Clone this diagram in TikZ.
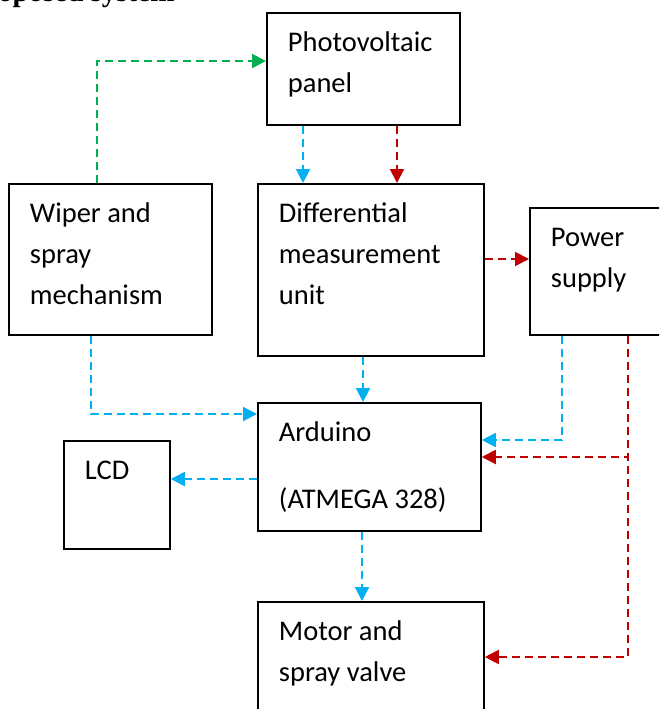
\documentclass[tikz,border=0pt]{standalone}
\usepackage{fontspec}
\setmainfont{Carlito}
\newfontfamily\headfont{Liberation Serif}
\usepackage{xcolor}
\usepackage{tikz}
\usetikzlibrary{arrows.meta,positioning,calc}
\definecolor{skyblue}{HTML}{00B0F0}
\definecolor{darkred}{HTML}{C00000}
\definecolor{leafgreen}{HTML}{00B050}

\begin{document}
\begin{tikzpicture}[
  x=1pt, y=-1pt,
  block/.style={draw, line width=1.8pt, anchor=north west, align=flush left, inner xsep=21pt, inner ysep=0pt, text height=39pt, font=\fontsize{28.5pt}{41pt}\selectfont},
  link/.style={-{Triangle[length=14pt,width=14pt]}, line width=2pt, dash pattern=on 8pt off 5pt},
  bluelink/.style={link, draw=skyblue, skyblue},
  redlink/.style={link, draw=darkred, darkred},
  greenlink/.style={link, draw=leafgreen, leafgreen}
]
\useasboundingbox (0,0) rectangle (659,709);
\clip (0,0) rectangle (659,709);
\node[anchor=base east, font=\headfont\bfseries\fontsize{29pt}{34pt}\selectfont] (title) at (178,2) {Proposed system};
\node[block, text width=151pt, text depth=73pt] (pv) at (266,12) {Photovoltaic\\panel};
\node[block, text width=161pt, text depth=112pt] (wiper) at (8,183) {Wiper and\\spray\\mechanism};
\node[block, text width=184pt, text depth=133pt] (diff) at (257,183) {Differential\\measurement\\unit};
\node[block, text width=98pt, text depth=88pt] (power) at (529,207) {Power\\supply};
\node[block, text width=181pt, text depth=89pt] (ard) at (257,402) {Arduino\\[26pt](ATMEGA~328)};
\node[block, text width=64pt, text depth=69pt] (lcd) at (63,440) {LCD};
\node[block, text width=184pt, text depth=111pt] (motor) at (257,601) {Motor and\\spray valve};
\draw[greenlink] ($(wiper.north west)+(89,0)$) |- ($(pv.north west)+(0,49)$);
\draw[bluelink] ($(pv.south west)+(37,0)$) -- ($(diff.north west)+(46,0)$);
\draw[redlink] ($(pv.south west)+(131,0)$) -- ($(diff.north west)+(140,0)$);
\draw[redlink] ($(diff.north east)+(0,76)$) -- ($(power.north west)+(0,52)$);
\draw[bluelink] ($(diff.south west)+(106,0)$) -- ($(ard.north west)+(106,0)$);
\draw[bluelink] ($(wiper.south west)+(83,0)$) |- ($(ard.north west)+(0,12)$);
\draw[bluelink] ($(ard.north west)+(0,77)$) -- ($(lcd.north east)+(0,39)$);
\draw[bluelink] ($(power.south west)+(33,0)$) |- ($(ard.north east)+(0,38)$);
\draw[redlink] ($(power.south west)+(99,0)$) |- ($(motor.north east)+(0,56)$);
\draw[redlink] ($(power.south west)+(99,0)$) |- ($(ard.north east)+(0,55)$);
\draw[bluelink] ($(ard.south west)+(105,0)$) -- ($(motor.north west)+(105,0)$);
\end{tikzpicture}
\end{document}
